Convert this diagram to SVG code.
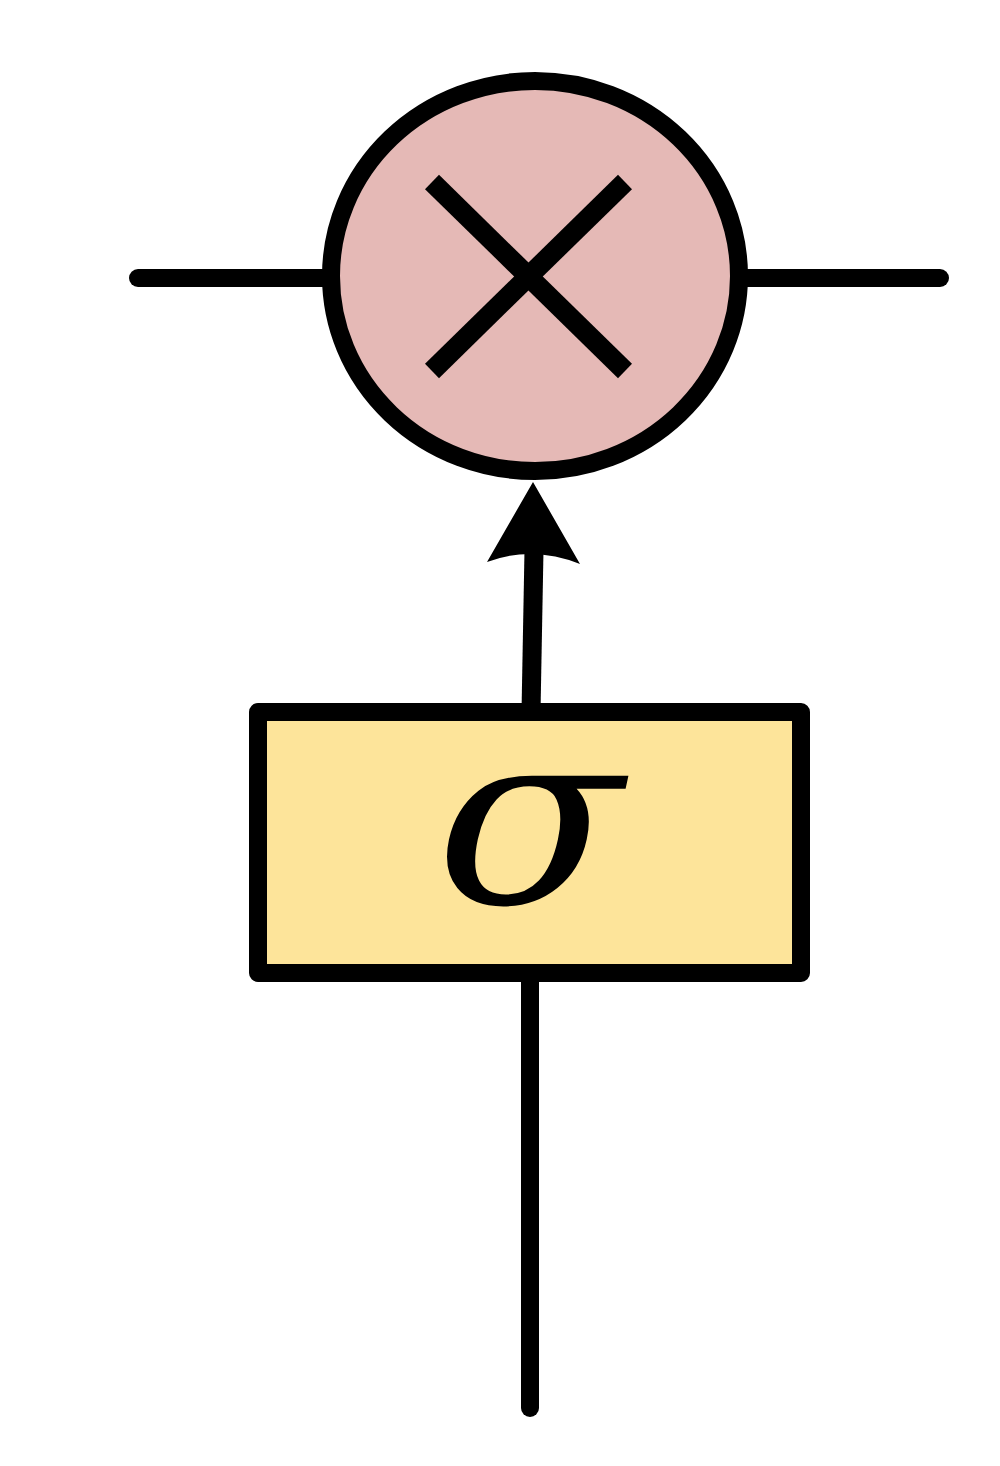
<svg xmlns="http://www.w3.org/2000/svg" width="1000" height="1466" viewBox="0 0 1000 1466">
<style>
.ln{stroke:#000;stroke-width:18;stroke-linecap:round;fill:none}
.bd{stroke:#000;stroke-width:18}
</style>
<rect width="1000" height="1466" fill="#fff"/>
<g id="connectors">
<line class="ln" x1="138" y1="278" x2="331" y2="278"/>
<line class="ln" x1="740" y1="278" x2="940" y2="278"/>
<line class="ln" x1="530" y1="972" x2="530" y2="1408"/>
<line x1="531" y1="712" x2="534" y2="550" stroke="#000" stroke-width="19"/>
<path d="M533,482 L580,564 Q533,545 487,562 Z" fill="#000"/>
</g>
<g id="multiply">
<ellipse cx="535" cy="276" rx="204" ry="195" fill="#e5b9b6" class="bd"/>
<line x1="432" y1="182" x2="625" y2="371" stroke="#000" stroke-width="20"/>
<line x1="625" y1="182" x2="432" y2="371" stroke="#000" stroke-width="20"/>
</g>
<g id="sigmoid">
<rect x="258" y="712" width="543" height="261" fill="#fde49a" class="bd" stroke-linejoin="round"/>
<text x="-7.5" y="903" transform="translate(537,0) scale(1.12,1)" font-family="DejaVu Serif, serif" font-style="italic" font-size="245" text-anchor="middle">σ</text>
</g>
</svg>
